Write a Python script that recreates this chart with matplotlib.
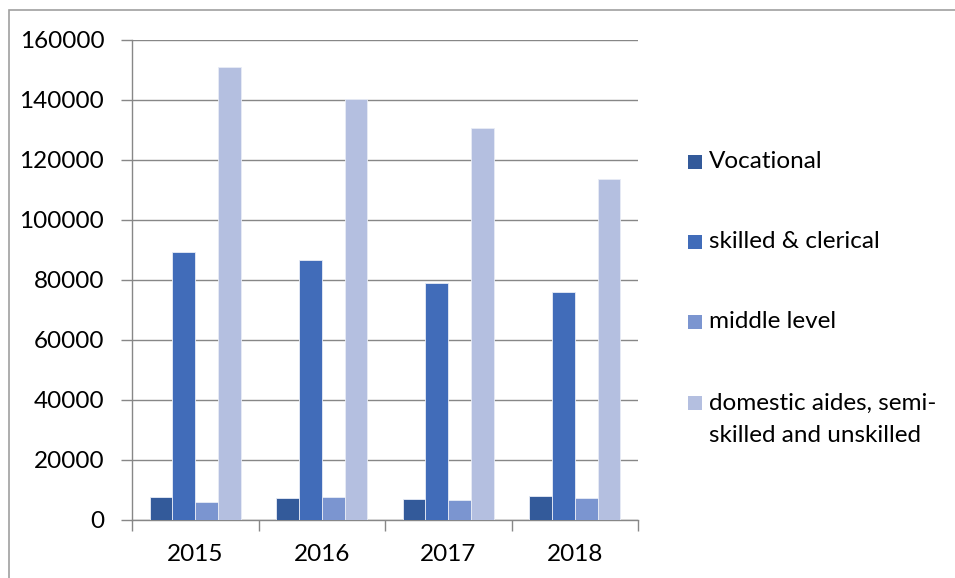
import matplotlib
matplotlib.use("Agg")
import matplotlib.pyplot as plt
from matplotlib.patches import Rectangle
import numpy as np

years = ["2015", "2016", "2017", "2018"]
series_names = ["Vocational", "skilled & clerical", "middle level",
                "domestic aides, semi-\nskilled and unskilled"]
vocational = [7600, 7400, 7100, 8100]
skilled_clerical = [89400, 86700, 79000, 75900]
middle_level = [6000, 7700, 6700, 7300]
domestic = [150900, 140300, 130700, 113600]
yticks = [0, 20000, 40000, 60000, 80000, 100000, 120000, 140000, 160000]

colors = ["#335A9A", "#416CB9", "#7B95D0", "#B4BFE0"]
values = [vocational, skilled_clerical, middle_level, domestic]

plt.rcParams['font.family'] = ['Lato', 'DejaVu Sans']
FS = 17.5
W, H = 955, 578
fig = plt.figure(figsize=(W / 100, H / 100), dpi=100)
fig.patch.set_facecolor("white")

ax = fig.add_axes([132 / W, (H - 520) / H, (638 - 132) / W, (520 - 40) / H])
x = np.arange(len(years))
bw = 0.18
for i, (vals, c) in enumerate(zip(values, colors)):
    ax.bar(x + (i - 1.5) * bw, vals, width=bw, color=c, edgecolor="#E8ECF6",
           linewidth=0.6, zorder=3)

ax.set_xlim(-0.5, 3.5)
ax.set_ylim(0, 160000)
ax.set_yticks(yticks)
ax.set_yticklabels([str(v) for v in yticks])
ax.set_xticks(x)
ax.set_xticklabels(years)
ax.set_xticks(np.arange(-0.5, 4.0, 1.0), minor=True)
ax.tick_params(axis="x", which="major", length=0, pad=17, labelsize=FS, colors="black")
ax.tick_params(axis="x", which="minor", length=8, width=1, color="#878787", direction="out")
ax.tick_params(axis="y", which="major", length=8, width=1, color="#878787",
               direction="out", pad=12, labelsize=FS)
ax.grid(axis="y", color="#878787", linewidth=1, zorder=0)
for s in ["top", "right"]:
    ax.spines[s].set_visible(False)
for s in ["left", "bottom"]:
    ax.spines[s].set_color("#878787")
    ax.spines[s].set_linewidth(1)

# legend
ys = [162, 242, 322, 403]
for name, c, yy in zip(series_names, colors, ys):
    fig.patches.append(Rectangle((688 / W, (H - yy - 7) / H), 14 / W, 14 / H,
                                 transform=fig.transFigure, facecolor=c,
                                 edgecolor="none"))
    for k, ln in enumerate(name.split("\n")):
        fig.text(709 / W, (H - (yy + 32 * k)) / H, ln, fontsize=FS,
                 va="center", ha="left")

# outer border
fig.patches.append(Rectangle((9 / W, -0.05), 1.0, (H - 10) / H + 0.05,
                             transform=fig.transFigure, facecolor="none",
                             edgecolor="#A0A0A0", linewidth=1.2))

fig.savefig("out.png", dpi=100)
